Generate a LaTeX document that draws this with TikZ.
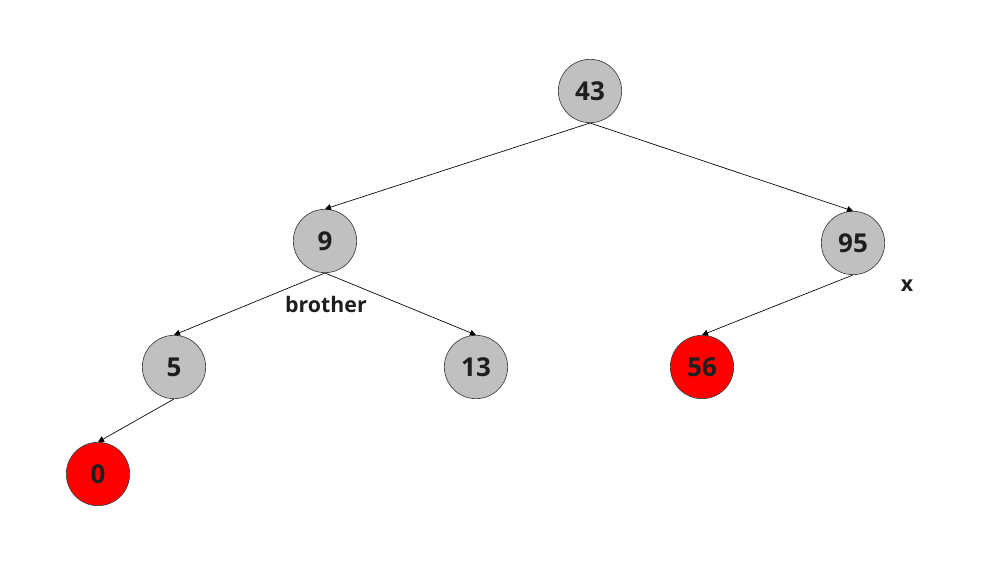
\documentclass[tikz,border=0pt]{standalone}
\usepackage{fontspec}
\setmainfont{Open Sans}
\usetikzlibrary{arrows.meta}
\definecolor{nodegray}{HTML}{C0C0C0}
\definecolor{nodered}{HTML}{FF0000}
\definecolor{rim}{HTML}{404040}
\definecolor{ink}{HTML}{1E1E1E}
\begin{document}
\begin{tikzpicture}[x=0.75pt,y=-0.75pt,
  treenode/.style={circle,draw=rim,line width=0.5pt,minimum size=47.5pt,inner sep=0pt,
    font=\fontsize{19.5}{22}\selectfont\bfseries,text=ink},
  blacknode/.style={treenode,fill=nodegray},
  rednode/.style={treenode,fill=nodered},
  link/.style={line width=0.5pt,-{Triangle[length=4.5pt,width=4.5pt]}},
  tag/.style={font=\fontsize{16}{19}\selectfont\bfseries,text=ink}]
\useasboundingbox (0,0) rectangle (1004,584);
\node[blacknode] (n43) at (590,91) {43};
\node[blacknode] (n9) at (325,241) {9};
\node[blacknode] (n95) at (853,243) {95};
\node[blacknode] (n5) at (174,367) {5};
\node[blacknode] (n13) at (476,367) {13};
\node[rednode] (n56) at (702,367) {56};
\node[rednode] (n0) at (98,474) {0};
\node[tag] (lb) at (326,305) {brother};
\node[tag] (lx) at (907,286) {x};
\draw[link] (n43.south) -- (n9.north);
\draw[link] (n43.south) -- (n95.north);
\draw[link] (n9.south) -- (n5.north);
\draw[link] (n9.south) -- (n13.north);
\draw[link] (n95.south) -- (n56.north);
\draw[link] (n5.south) -- (n0.north);
\end{tikzpicture}
\end{document}
